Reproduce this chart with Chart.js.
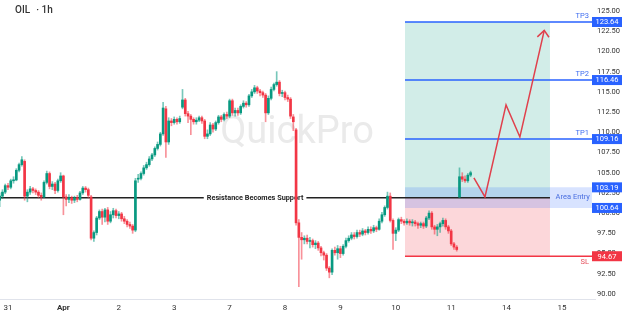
<!DOCTYPE html>
<html lang="en">
<head>
    <meta charset="UTF-8">
    <title>OIL 1h</title>
    <script src="https://cdn.jsdelivr.net/npm/chart.js"></script>
    <style>
        html, body { margin: 0; padding: 0; background: #fff; }
        #wrap { position: relative; width: 624px; height: 316px; }
        .title {
            position: absolute; left: 15px; top: 4px;
            font: 500 10px Roboto, sans-serif; color: #333;
        }
        .title span { margin-left: 6px; }
    </style>
</head>
<body>
<div id="wrap">
    <canvas id="chart" width="624" height="316"></canvas>
    <div class="title">OIL<span>· 1h</span></div>
</div>
<script>
    // x axis: one unit per trading day, 20 hourly bars per unit
    const dayLabels = ['31', 'Apr', '2', '3', '7', '8', '9', '10', '11', '14', '15'];
    const yTicks = [90, 92.5, 95, 97.5, 100, 102.5, 105, 107.5, 110, 112.5, 115, 117.5, 120, 122.5, 125];
    const barStart = -0.15;
    const barStep = 0.05;

    const candleOpen = [
        101.6,102.1,102.6,103.4,103.2,104.0,104.1,105.3,106.0,106.4,
        102.1,102.6,103.0,102.8,102.6,102.2,102.0,103.8,104.9,103.3,
        103.6,102.8,104.0,104.6,102.0,101.7,101.9,101.6,101.9,101.7,
        102.5,103.1,102.9,102.0,96.9,97.6,99.4,100.2,99.5,100.4,
        99.0,99.8,100.3,99.7,99.9,99.3,99.0,98.6,98.4,97.9,
        104.2,104.3,104.9,105.6,106.0,106.7,107.2,108.0,108.5,109.8,
        112.9,108.8,111.4,111.2,111.6,111.3,113.1,114.0,112.3,112.0,
        111.6,111.3,111.5,111.8,111.4,109.5,109.8,110.9,110.4,111.2,
        111.9,111.6,112.2,112.0,113.9,112.4,112.7,112.4,113.2,113.6,
        113.4,114.5,115.0,115.5,115.1,114.9,114.6,112.4,114.2,115.3,
        115.9,116.2,114.8,114.9,114.3,114.1,111.9,110.3,98.8,97.0,
        96.7,96.9,96.5,96.6,96.1,96.3,95.7,95.1,94.8,93.2,
        92.7,95.4,95.1,95.6,95.0,95.9,96.6,96.9,97.3,97.1,
        97.6,97.4,97.8,97.6,98.0,97.8,98.2,98.0,99.0,99.8,
        100.7,102.1,99.1,97.5,97.9,99.2,99.0,98.8,99.0,98.8,
        98.9,98.7,98.5,98.7,98.4,99.4,100.0,98.3,98.0,98.3,
        98.7,99.1,98.3,97.8,96.2,95.8,102.0,104.5,104.2,104.0,
        104.7
    ];
    const candleHigh = [
        102.5,102.9,103.6,103.7,104.2,104.5,105.5,106.2,107.0,106.6,
        102.9,103.3,103.2,103.0,102.8,102.5,104.0,105.2,105.1,103.9,
        103.8,104.2,105.0,104.7,102.3,102.3,102.1,102.1,102.2,102.7,
        103.3,103.3,103.1,102.2,97.8,99.6,100.4,100.5,100.6,100.7,
        100.2,100.6,100.5,100.2,100.1,99.6,99.2,98.9,98.6,104.3,
        104.8,105.1,105.9,106.3,107.0,107.4,108.2,108.8,110.0,113.7,
        113.2,111.8,111.7,111.9,111.8,112.0,115.3,114.2,112.6,112.2,
        111.8,111.8,112.0,112.0,111.6,110.3,111.2,111.1,111.4,112.1,
        112.1,112.4,112.5,114.1,114.1,113.0,113.0,113.4,113.9,113.8,
        114.7,115.3,115.8,115.7,115.3,115.1,114.8,114.5,115.6,116.1,
        117.5,116.4,115.2,115.1,114.6,114.3,112.2,110.5,99.2,97.6,
        97.2,97.3,97.0,96.8,96.6,96.5,95.9,95.3,95.0,93.4,
        95.6,95.8,96.0,95.9,96.1,96.9,97.2,97.6,97.6,97.9,
        97.9,98.1,98.0,98.3,98.3,98.5,98.4,99.3,100.1,100.9,
        102.6,102.5,99.3,98.2,99.4,99.5,99.2,99.3,99.2,99.2,
        99.1,98.9,98.9,98.9,99.6,100.3,100.2,98.5,98.6,98.9,
        99.4,99.3,98.5,98.0,96.4,96.0,105.6,105.0,104.6,104.9,
        105.2
    ];
    const candleLow = [
        100.8,101.8,102.4,102.9,103.0,103.7,104.0,105.1,105.8,101.6,
        101.4,102.3,102.5,102.3,101.9,101.6,101.9,103.6,103.0,102.9,
        102.4,102.6,103.8,99.8,100.9,101.3,101.2,101.3,101.4,101.6,
        102.3,102.6,101.9,96.7,96.5,97.3,99.2,98.6,98.9,98.6,
        98.8,99.4,99.4,99.3,99.0,98.7,98.3,98.1,97.5,97.7,
        103.8,104.1,104.7,105.4,105.8,106.5,107.0,107.8,108.3,109.6,
        106.9,108.5,110.8,111.0,111.0,111.1,112.9,112.0,111.2,109.7,
        111.0,111.0,111.3,111.1,109.2,109.2,109.6,110.0,110.2,111.0,
        111.3,111.4,111.7,111.8,112.1,112.0,112.1,112.2,113.0,113.1,
        113.2,114.3,114.8,114.8,114.5,114.3,111.3,112.2,114.0,115.1,
        115.7,114.5,114.4,114.0,113.8,111.7,110.2,98.5,90.9,94.3,
        96.2,96.2,95.7,95.8,95.6,95.4,94.7,94.2,92.9,92.0,
        92.4,94.8,94.3,94.5,94.8,95.7,96.4,96.7,96.8,96.9,
        97.1,97.2,97.3,97.4,97.5,97.6,97.7,97.9,98.8,99.6,
        100.5,98.9,95.5,96.6,97.7,98.7,98.5,98.6,98.5,98.4,
        98.4,98.1,98.2,98.1,98.2,99.2,98.0,97.4,97.2,97.6,
        98.4,98.0,97.5,96.0,95.5,95.3,101.9,103.9,103.8,103.8,
        104.5
    ];
    const candleClose = [
        102.1,102.6,103.4,103.2,104.0,104.1,105.3,106.0,106.6,102.1,
        102.6,103.0,102.8,102.6,102.2,102.0,103.8,104.9,103.3,103.6,
        102.8,104.0,104.6,102.0,101.7,101.9,101.6,101.9,101.7,102.5,
        103.1,102.9,102.2,96.9,97.6,99.4,100.2,99.5,100.4,99.0,
        99.8,100.3,99.7,99.9,99.3,99.0,98.6,98.4,97.9,104.0,
        104.3,104.9,105.6,106.0,106.7,107.2,108.0,108.5,109.8,113.0,
        108.8,111.4,111.2,111.6,111.3,111.7,114.0,112.3,112.0,111.6,
        111.3,111.5,111.8,111.4,109.5,109.8,110.9,110.4,111.2,111.9,
        111.6,112.2,112.0,113.9,112.4,112.7,112.4,113.2,113.6,113.4,
        114.5,115.0,115.5,115.1,114.9,114.6,112.4,114.2,115.3,115.9,
        116.2,114.8,114.9,114.3,114.1,112.0,111.3,98.8,97.0,96.7,
        96.9,96.5,96.6,96.1,96.3,95.7,95.1,94.8,93.2,92.7,
        95.4,95.1,95.6,95.0,95.9,96.6,96.9,97.3,97.1,97.6,
        97.4,97.8,97.6,98.0,97.8,98.2,98.0,99.0,99.8,100.7,
        102.1,99.1,97.5,97.9,99.2,99.0,98.8,99.0,98.8,98.9,
        98.7,98.5,98.7,98.4,99.4,100.0,98.3,98.0,98.3,98.7,
        99.1,98.3,97.8,96.2,95.8,95.5,104.5,104.2,104.0,104.7,
        105.0
    ];

    // trade plan levels
    const tp3 = 123.64, tp2 = 116.46, tp1 = 109.16;
    const areaTop = 103.19, areaBottom = 100.64, stopLoss = 94.67;
    const supportLevel = 101.9;
    const zoneStart = 7.166, zoneEnd = 9.783, areaEnd = 10.54;

    // projected path (red arrow)
    const arrowX = [8.41, 8.61, 8.99, 9.24, 9.68];
    const arrowY = [104.35, 102.0, 113.38, 109.42, 122.6];
    const headX = [9.555, 9.68, 9.765];
    const headY = [121.8, 122.6, 121.75];

    const xMin = -0.1444, xMax = 10.596;
    const yMin = 89.38, yMax = 126.36;

    const GREEN = '#089981', RED = '#f23645', BLUE = '#2962ff';
    const FONT = 'Roboto, sans-serif';

    const candleTime = candleOpen.map((o, i) => barStart + i * barStep);
    const up = candleOpen.map((o, i) => candleClose[i] >= o);

    function hline(y, x0, x1) {
        return [{x: x0, y: y}, {x: x1, y: y}];
    }

    const tags = [
        {v: tp3, color: BLUE, name: 'TP3', above: true},
        {v: tp2, color: BLUE, name: 'TP2', above: true},
        {v: tp1, color: BLUE, name: 'TP1', above: true},
        {v: areaTop, color: BLUE},
        {v: areaBottom, color: BLUE},
        {v: stopLoss, color: RED, name: 'SL', above: false}
    ];

    const overlay = {
        id: 'overlay',
        beforeDatasetsDraw(chart) {
            const ctx = chart.ctx;
            ctx.save();
            ctx.font = '38px ' + FONT;
            ctx.fillStyle = '#eaeaea';
            ctx.textAlign = 'center';
            ctx.textBaseline = 'alphabetic';
            ctx.fillText('QuickPro', 297, 143);
            ctx.restore();
        },
        afterDatasetDraw(chart, args) {
            if (chart.data.datasets[args.index].label !== 'support') return;
            const ctx = chart.ctx;
            const xs = chart.scales.x, ys = chart.scales.y;
            const px = xs.getPixelForValue(4.46), py = ys.getPixelForValue(supportLevel);
            ctx.save();
            ctx.font = 'bold 7.3px ' + FONT;
            const w = ctx.measureText('Resistance Becomes Support').width;
            ctx.fillStyle = '#fff';
            ctx.fillRect(px - w / 2 - 3, py - 5, w + 6, 10);
            ctx.fillStyle = '#1e1e1e';
            ctx.textAlign = 'center';
            ctx.textBaseline = 'middle';
            ctx.fillText('Resistance Becomes Support', px, py);
            ctx.restore();
        },
        afterDraw(chart) {
            const ctx = chart.ctx;
            const xs = chart.scales.x, ys = chart.scales.y;
            const right = chart.chartArea.right;
            ctx.save();
            ctx.font = '7.5px ' + FONT;
            ctx.textBaseline = 'middle';
            // "Area Entry" label
            ctx.fillStyle = '#4a6fe0';
            ctx.textAlign = 'right';
            ctx.fillText('Area Entry', xs.getPixelForValue(areaEnd) - 2, ys.getPixelForValue(supportLevel) - 1);
            tags.forEach(t => {
                const py = ys.getPixelForValue(t.v);
                if (t.name) {
                    ctx.fillStyle = t.color === RED ? '#e5505c' : '#3d6cf0';
                    ctx.textAlign = 'right';
                    ctx.fillText(t.name, right - 6, py + (t.above ? -6 : 6));
                }
                ctx.fillStyle = t.color;
                ctx.fillRect(right - 3, py - 5, 30, 10);
                ctx.fillStyle = '#fff';
                ctx.textAlign = 'center';
                ctx.fillText(t.v.toFixed(2), right + 12, py + 0.5);
            });
            ctx.restore();
        }
    };

    const lineBase = {type: 'line', pointRadius: 0, borderWidth: 1.5, fill: false, tension: 0};

    new Chart(document.getElementById('chart'), {
        type: 'bar',
        data: {
            datasets: [
                Object.assign({}, lineBase, {
                    label: 'profit', data: hline(tp3, zoneStart, zoneEnd), borderWidth: 0,
                    backgroundColor: 'rgba(8,153,129,0.18)', fill: {value: supportLevel}, order: 10
                }),
                Object.assign({}, lineBase, {
                    label: 'loss', data: hline(stopLoss, zoneStart, zoneEnd), borderWidth: 0,
                    backgroundColor: 'rgba(242,54,69,0.2)', fill: {value: supportLevel}, order: 10
                }),
                Object.assign({}, lineBase, {
                    label: 'area', data: hline(areaTop, zoneStart, areaEnd), borderWidth: 0,
                    backgroundColor: 'rgba(41,98,255,0.18)', fill: {value: areaBottom}, order: 9
                }),
                Object.assign({}, lineBase, {label: 'tp3', data: hline(tp3, zoneStart, xMax), borderColor: BLUE, order: 5}),
                Object.assign({}, lineBase, {label: 'tp2', data: hline(tp2, zoneStart, xMax), borderColor: BLUE, order: 5}),
                Object.assign({}, lineBase, {label: 'tp1', data: hline(tp1, zoneStart, xMax), borderColor: BLUE, order: 5}),
                Object.assign({}, lineBase, {label: 'sl', data: hline(stopLoss, zoneStart, xMax), borderColor: RED, order: 5}),
                Object.assign({}, lineBase, {label: 'support', data: hline(supportLevel, xMin, zoneEnd), borderColor: '#222', order: 4}),
                {
                    label: 'wick',
                    data: candleTime.map((t, i) => ({x: t, y: [candleLow[i], candleHigh[i]]})),
                    backgroundColor: up.map(u => u ? 'rgba(8,153,129,0.55)' : 'rgba(242,54,69,0.55)'),
                    barThickness: 1, grouped: false, order: 2
                },
                {
                    label: 'body',
                    data: candleTime.map((t, i) => ({x: t, y: [candleOpen[i], candleClose[i]]})),
                    backgroundColor: up.map(u => u ? GREEN : RED),
                    barThickness: 2, minBarLength: 1, grouped: false, order: 1
                },
                Object.assign({}, lineBase, {
                    label: 'path', data: arrowX.map((x, i) => ({x: x, y: arrowY[i]})),
                    borderColor: '#e0404c', order: 0
                }),
                Object.assign({}, lineBase, {
                    label: 'head', data: headX.map((x, i) => ({x: x, y: headY[i]})),
                    borderColor: '#e0404c', order: 0
                })
            ]
        },
        options: {
            responsive: false,
            animation: false,
            events: [],
            layout: {padding: 0},
            plugins: {legend: {display: false}, tooltip: {enabled: false}},
            scales: {
                x: {
                    type: 'linear', min: xMin, max: xMax, offset: false,
                    grid: {display: false, drawTicks: false},
                    border: {display: true, color: '#e0e3eb', width: 1},
                    afterBuildTicks: s => { s.ticks = dayLabels.map((l, i) => ({value: i})); },
                    afterFit: s => { s.height = 17; s.paddingLeft = 0; s.paddingRight = 0; },
                    ticks: {
                        autoSkip: false, maxRotation: 0, padding: 4, color: '#333',
                        callback: (v, i) => dayLabels[i],
                        font: c => ({family: FONT, size: 8, weight: c.index === 1 ? 'bold' : 'normal'})
                    }
                },
                y: {
                    position: 'right', min: yMin, max: yMax,
                    grid: {display: false, drawTicks: false},
                    border: {display: false},
                    afterBuildTicks: s => { s.ticks = yTicks.map(v => ({value: v})); },
                    afterFit: s => { s.width = 29; s.paddingTop = 0; s.paddingBottom = 0; },
                    ticks: {
                        padding: 2, color: '#333',
                        font: {family: FONT, size: 7.5},
                        callback: v => Number(v).toFixed(2)
                    }
                }
            }
        },
        plugins: [overlay]
    });
</script>
</body>
</html>
